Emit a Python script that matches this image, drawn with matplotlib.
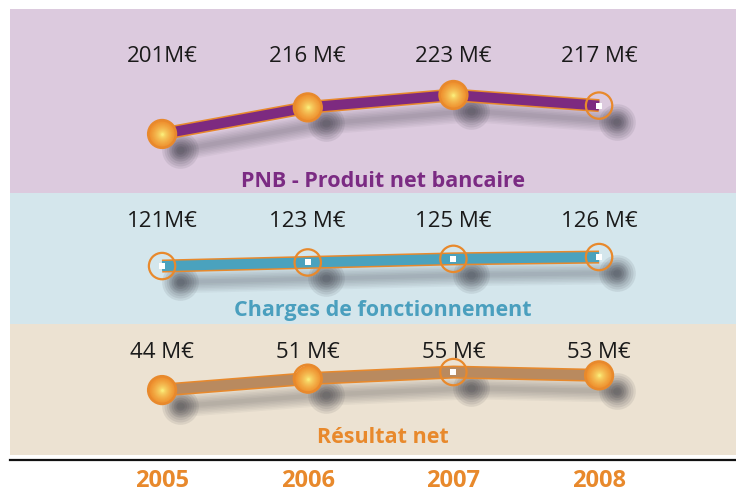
import matplotlib
matplotlib.use('Agg')
import matplotlib.pyplot as plt
import matplotlib.patheffects as pe
from matplotlib import transforms
import numpy as np

# data
years = [2005, 2006, 2007, 2008]
pnb = [201, 216, 223, 217]
charges = [121, 123, 125, 126]
resultat = [44, 51, 55, 53]
pnb_labels = ['201M€', '216 M€', '223 M€', '217 M€']
charges_labels = ['121M€', '123 M€', '125 M€', '126 M€']
resultat_labels = ['44 M€', '51 M€', '55 M€', '53 M€']
titles = ['PNB - Produit net bancaire', 'Charges de fonctionnement', 'Résultat net']

ORANGE = '#e8892c'
plt.rcParams['font.family'] = ['Open Sans', 'DejaVu Sans']

fig = plt.figure(figsize=(7.36, 5), dpi=100)
W, H = 736.0, 500.0


def px_axes(top, bottom, left=10, right=736):
    return fig.add_axes([left / W, 1 - bottom / H, (right - left) / W, (bottom - top) / H])


# panel: (top px, bottom px, bg, line colour, title colour, ylim, filled markers, label y, title y)
panels = [
    (9, 193, '#dccade', '#7d2a80', '#7b2b83', (167.7, 271.5), [1, 1, 1, 0], 0.74, 0.06),
    (193, 324, '#d4e6ec', '#4aa2be', '#4a9fbe', (88.8, 161.6), [0, 0, 0, 0], 0.785, 0.105),
    (324, 455, '#ece2d2', '#b98a5f', ORANGE, (4.3, 84.4), [1, 1, 0, 1], 0.78, 0.135),
]
series = [pnb, charges, resultat]
labels = [pnb_labels, charges_labels, resultat_labels]

grad_from = np.array(matplotlib.colors.to_rgb('#ee8d2c'))
grad_to = np.array(matplotlib.colors.to_rgb('#fbeb78'))

for (top, bot, bg, lc, tc, ylim, filled, ly, ty), vals, labs, title in zip(panels, series, labels, titles):
    ax = px_axes(top, bot)
    ax.set_facecolor(bg)
    ax.set_xlim(2003.956, 2008.94)
    ax.set_ylim(*ylim)
    ax.set_xticks([])
    ax.set_yticks([])
    for s in ax.spines.values():
        s.set_visible(False)

    # blurred drop shadow
    sh = transforms.offset_copy(ax.transData, fig=fig, x=18, y=-16, units='dots')
    for k in range(7):
        ax.plot(years, vals, color='#2a2a35', lw=3 + k * 2.2, alpha=0.045,
                solid_capstyle='round', transform=sh, zorder=1)
        ax.scatter(years, vals, s=(6 + k * 3.4) ** 2, color='#2a2a35', alpha=0.09,
                   lw=0, transform=sh, zorder=1)

    # ribbon line with orange border
    ax.plot(years, vals, color=lc, lw=7.2, solid_capstyle='butt', solid_joinstyle='miter', zorder=2,
            path_effects=[pe.Stroke(linewidth=9.4, foreground=ORANGE, capstyle='butt'), pe.Normal()])

    for x, y, f in zip(years, vals, filled):
        if f:
            n = 14
            for i in range(n):
                t = i / (n - 1)
                d = 20 * (1 - t) + 2 * t
                c = grad_from * (1 - t) ** 0.7 + grad_to * (1 - (1 - t) ** 0.7)
                ax.scatter([x], [y], s=d ** 2, color=c, lw=0, zorder=3)
            ax.scatter([x], [y], s=20 ** 2, facecolor='none', edgecolor=ORANGE, lw=1.8, zorder=4)
        else:
            ax.scatter([x], [y], s=4 ** 2, marker='s', color='white', lw=0, zorder=3)
            ax.scatter([x], [y], s=19 ** 2, facecolor='none', edgecolor=ORANGE, lw=1.6, zorder=4)

    bt = transforms.blended_transform_factory(ax.transData, ax.transAxes)
    for x, lab in zip(years, labs):
        ax.text(x, ly, lab, transform=bt, ha='center', va='center', fontsize=16, color='#1a1a1a')
    ax.text(0.514, ty, title, transform=ax.transAxes, ha='center', va='center',
            fontsize=15.5, fontweight='bold', color=tc)

# year axis
axb = px_axes(460, 500)
axb.set_xlim(2003.956, 2008.94)
axb.set_ylim(0, 1)
axb.set_xticks([])
axb.set_yticks([])
for k, s in axb.spines.items():
    s.set_visible(k == 'top')
axb.spines['top'].set_linewidth(1.6)
axb.spines['top'].set_color('#111111')
axb.patch.set_alpha(0)
for x in years:
    axb.text(x, 0.48, str(x), ha='center', va='center', fontsize=17, fontweight='bold', color=ORANGE)

fig.savefig('out.png', dpi=100)
